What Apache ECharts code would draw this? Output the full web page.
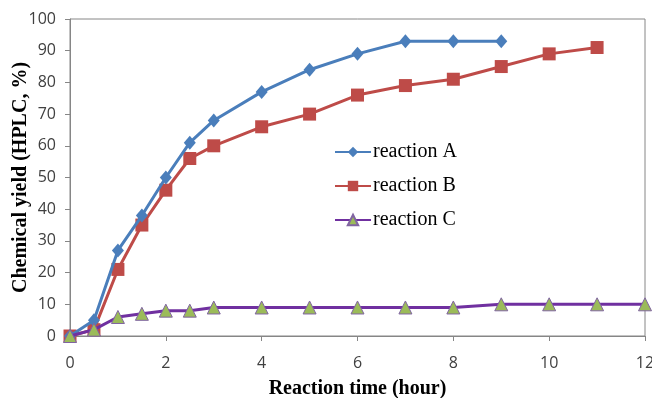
<!DOCTYPE html>
<html>
<head>
<meta charset="utf-8">
<script src="https://cdn.jsdelivr.net/npm/echarts@6/dist/echarts.min.js"></script>
<style>
  html, body { margin: 0; padding: 0; background: #fff; }
  #chart { width: 652px; height: 398px; }
</style>
</head>
<body>
<div id="chart"></div>
<script>
// reaction times (hour) and yields (%)
const timesA = [0, 0.5, 1, 1.5, 2, 2.5, 3, 4, 5, 6, 7, 8, 9]
const yieldA = [0, 5, 27, 38, 50, 61, 68, 77, 84, 89, 93, 93, 93]
const timesB = [0, 0.5, 1, 1.5, 2, 2.5, 3, 4, 5, 6, 7, 8, 9, 10, 11]
const yieldB = [0, 2, 21, 35, 46, 56, 60, 66, 70, 76, 79, 81, 85, 89, 91]
const timesC = [0, 0.5, 1, 1.5, 2, 2.5, 3, 4, 5, 6, 7, 8, 9, 10, 11, 12]
const yieldC = [0, 2, 6, 7, 8, 8, 9, 9, 9, 9, 9, 9, 10, 10, 10, 10]
const seriesNames = ['reaction A', 'reaction B', 'reaction C']

const AXIS_GRAY = '#868686'
const LABEL_STYLE = { color: '#404040', fontFamily: 'Open Sans', fontSize: 16 }
const TITLE_FONT = { fontFamily: 'Liberation Serif', fontWeight: 'bold', fontSize: 20, color: '#000' }

const pairs = (xs, ys) => xs.map((x, i) => [x, ys[i]])

const chart = echarts.init(document.getElementById('chart'))
chart.setOption({
  animation: false,
  grid: {
    left: 70, right: 7, top: 19, bottom: 62,
    outerBoundsMode: 'none',
    show: true, borderColor: AXIS_GRAY, borderWidth: 1,
  },
  legend: {
    orient: 'vertical',
    left: 329, top: 137,
    itemWidth: 36, itemHeight: 13, itemGap: 14,
    textStyle: { fontFamily: 'Liberation Serif', fontSize: 20, color: '#000', padding: [0, 0, 0, -3] },
    data: seriesNames,
  },
  xAxis: {
    type: 'value', min: 0, max: 12, interval: 2,
    name: 'Reaction time (hour)', nameLocation: 'middle', nameGap: 43,
    nameMoveOverlap: false,
    nameTextStyle: TITLE_FONT,
    axisLine: { lineStyle: { color: AXIS_GRAY } },
    axisTick: { length: 5, lineStyle: { color: AXIS_GRAY } },
    axisLabel: { ...LABEL_STYLE, margin: 19 },
    splitLine: { show: false },
  },
  yAxis: {
    type: 'value', min: 0, max: 100, interval: 10,
    name: 'Chemical yield (HPLC, %)', nameLocation: 'middle', nameGap: 39,
    nameMoveOverlap: false,
    nameTextStyle: TITLE_FONT,
    axisLine: { show: true, lineStyle: { color: AXIS_GRAY } },
    axisTick: { show: true, length: 5, lineStyle: { color: AXIS_GRAY } },
    axisLabel: { ...LABEL_STYLE, margin: 14 },
    splitLine: { show: false },
  },
  series: [
    {
      name: seriesNames[0], type: 'line', data: pairs(timesA, yieldA),
      symbol: 'diamond', symbolSize: [12, 14],
      lineStyle: { color: '#4A7EBB', width: 3 },
      itemStyle: { color: '#4A7EBB' },
      z: 4,
    },
    {
      name: seriesNames[1], type: 'line', data: pairs(timesB, yieldB),
      symbol: 'rect', symbolSize: 13,
      lineStyle: { color: '#BE4B48', width: 3 },
      itemStyle: { color: '#BE4B48' },
      z: 3,
    },
    {
      name: seriesNames[2], type: 'line', data: pairs(timesC, yieldC),
      symbol: 'triangle', symbolSize: 13,
      lineStyle: { color: '#7030A0', width: 3 },
      itemStyle: { color: '#9BBB59', borderColor: '#8064A2', borderWidth: 1 },
      z: 5,
    },
  ],
})
</script>
</body>
</html>
